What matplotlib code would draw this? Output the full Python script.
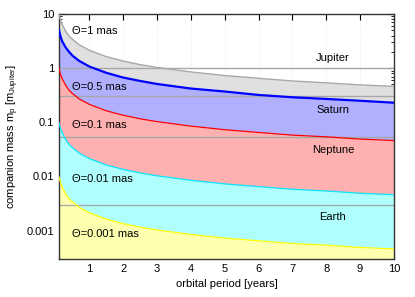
import matplotlib
matplotlib.use("Agg")
import matplotlib.pyplot as plt

plt.rcParams['font.family'] = ['Liberation Sans', 'DejaVu Sans']
plt.rcParams['font.size'] = 8

# orbital period [years]
periodo = [0.1, 0.15, 0.2, 0.3, 0.4, 0.5, 0.7, 1, 1.5, 2, 2.5, 3, 4, 5, 6, 7, 8, 9, 10]

# companion mass [m_Jupiter] for each astrometric signal
massa_1mas = [9.9, 7.6, 6.3, 4.8, 3.9, 3.4, 2.7, 2.14, 1.63, 1.35, 1.16, 1.03, 0.85, 0.73, 0.65, 0.58, 0.535, 0.49, 0.46]
massa_05mas = [5.0, 3.8, 3.1, 2.4, 2.0, 1.7, 1.36, 1.07, 0.82, 0.67, 0.58, 0.51, 0.42, 0.37, 0.32, 0.29, 0.27, 0.25, 0.23]
massa_01mas = [0.99, 0.76, 0.63, 0.48, 0.39, 0.34, 0.27, 0.214, 0.163, 0.135, 0.116, 0.103, 0.085, 0.073, 0.065, 0.058, 0.054, 0.049, 0.046]
massa_001mas = [0.099, 0.076, 0.063, 0.048, 0.039, 0.034, 0.027, 0.0214, 0.0163, 0.0135, 0.0116, 0.0103, 0.0085, 0.0073, 0.0065, 0.0058, 0.0054, 0.0049, 0.0046]
massa_0001mas = [0.0099, 0.0076, 0.0063, 0.0048, 0.0039, 0.0034, 0.0027, 0.00214, 0.00163, 0.00135, 0.00116, 0.00103, 0.00085, 0.00073, 0.00065, 0.00058, 0.00054, 0.00049, 0.00046]

# planetas de referencia
planetas = ["Jupiter", "Saturn", "Neptune", "Earth"]
massa_planetas = [1.0, 0.3, 0.054, 0.003]
rotulo_planetas_y = [1.56, 0.17, 0.031, 0.0018]

rotulos_theta = ["Θ=1 mas", "Θ=0.5 mas", "Θ=0.1 mas", "Θ=0.01 mas", "Θ=0.001 mas"]
rotulos_theta_y = [4.9, 0.44, 0.089, 0.0089, 0.00085]

y_min, y_max = 0.0003, 10

fig = plt.figure(figsize=(4.15, 2.97), dpi=100)
ax = fig.add_axes([0.142, 0.128, 0.807, 0.825])
ax.set_yscale('log')
ax.set_xlim(0.1, 10)
ax.set_ylim(y_min, y_max)
ax.set_axisbelow(True)

# faixas coloridas
ax.fill_between(periodo, massa_1mas, massa_05mas, color='#e0e0e0', lw=0)
ax.fill_between(periodo, massa_05mas, massa_01mas, color='#b0b0ff', lw=0)
ax.fill_between(periodo, massa_01mas, massa_001mas, color='#ffb0b0', lw=0)
ax.fill_between(periodo, massa_001mas, massa_0001mas, color='#b0ffff', lw=0)
ax.fill_between(periodo, massa_0001mas, y_min, color='#ffffb0', lw=0)

# linhas horizontais dos planetas
for m in massa_planetas:
    ax.axhline(m, color='#a8a8a8', lw=1, zorder=2)

ax.plot(periodo, massa_1mas, color='#a8a8a8', lw=1.0, zorder=3)
ax.plot(periodo, massa_05mas, color='#0000ff', lw=1.6, zorder=3)
ax.plot(periodo, massa_01mas, color='#ff0000', lw=0.9, zorder=3)
ax.plot(periodo, massa_001mas, color='#00e8ff', lw=0.9, zorder=3)
ax.plot(periodo, massa_0001mas, color='#ffff00', lw=0.9, zorder=3)

for nome, y in zip(planetas, rotulo_planetas_y):
    ax.text(8.2, y, nome, ha='center', va='center', fontsize=8, zorder=4)

for rotulo, y in zip(rotulos_theta, rotulos_theta_y):
    ax.text(0.5, y, rotulo, ha='left', va='center', fontsize=8, zorder=4)

ax.set_xticks(range(1, 11))
ax.set_yticks([0.001, 0.01, 0.1, 1, 10])
ax.set_yticklabels(['0.001', '0.01', '0.1', '1', '10'])
ax.tick_params(which='both', direction='in', top=True, right=True)
ax.tick_params(which='major', length=4)
ax.tick_params(which='minor', length=2)
ax.grid(True, axis='x', color='#e8e8e8', lw=0.6, ls=':')

for s in ax.spines.values():
    s.set_color('#333333')
    s.set_linewidth(1)

ax.set_xlabel('orbital period [years]')
ax.set_ylabel(r'companion mass m$_\mathregular{p}$ [m$_\mathregular{Jupiter}$]')

fig.savefig('out.png', dpi=100)
